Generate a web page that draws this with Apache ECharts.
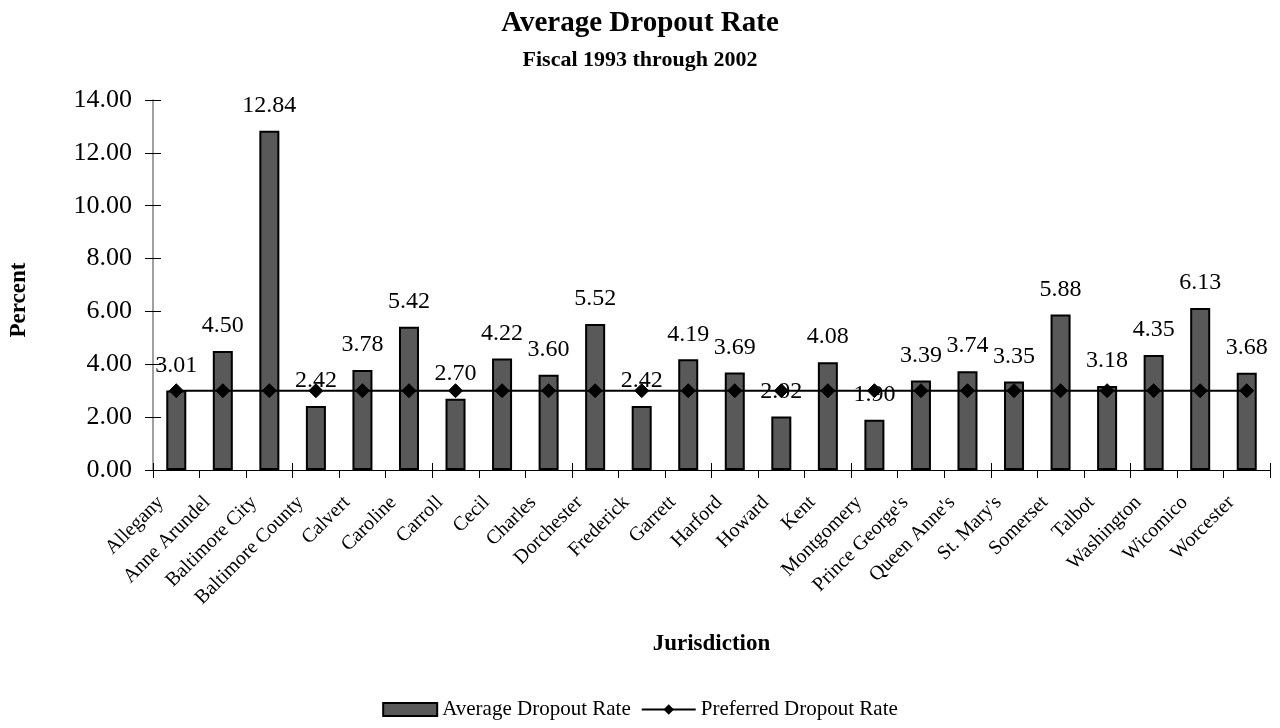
<!DOCTYPE html>
<html>
<head>
<meta charset="utf-8">
<script src="https://cdn.jsdelivr.net/npm/echarts@6/dist/echarts.min.js"></script>
<style>
  html, body { margin: 0; padding: 0; background: #fff; }
  #chart { width: 1280px; height: 728px; }
</style>
</head>
<body>
<div id="chart"></div>
<script>
// Jurisdictions (Maryland counties) along the category axis
const jurisdictions = [
  'Allegany', 'Anne Arundel', 'Baltimore City', 'Baltimore County', 'Calvert',
  'Caroline', 'Carroll', 'Cecil', 'Charles', 'Dorchester', 'Frederick',
  'Garrett', 'Harford', 'Howard', 'Kent', 'Montgomery', "Prince George's",
  "Queen Anne's", "St. Mary's", 'Somerset', 'Talbot', 'Washington',
  'Wicomico', 'Worcester'
];

// Average dropout rate, fiscal 1993 through 2002 (percent)
const averageRate = [
  3.01, 4.50, 12.84, 2.42, 3.78, 5.42, 2.70, 4.22, 3.60, 5.52, 2.42,
  4.19, 3.69, 2.02, 4.08, 1.90, 3.39, 3.74, 3.35, 5.88, 3.18, 4.35,
  6.13, 3.68
];

// Preferred (target) dropout rate (percent)
const preferredRate = [
  3.00, 3.00, 3.00, 3.00, 3.00, 3.00, 3.00, 3.00, 3.00, 3.00, 3.00,
  3.00, 3.00, 3.00, 3.00, 3.00, 3.00, 3.00, 3.00, 3.00, 3.00, 3.00,
  3.00, 3.00
];

// Percent axis range
const yMin = 0;
const yMax = 14;
const yStep = 2;

const FONT = '"Liberation Serif", "Times New Roman", serif';

const chart = echarts.init(document.getElementById('chart'), null, { renderer: 'canvas' });

chart.setOption({
  backgroundColor: '#ffffff',
  animation: false,
  textStyle: { fontFamily: FONT, color: '#000' },
  title: [
    {
      text: 'Average Dropout Rate',
      left: 'center', top: 4,
      textStyle: { fontFamily: FONT, fontSize: 29, fontWeight: 'bold', color: '#000' }
    },
    {
      text: 'Fiscal 1993 through 2002',
      left: 'center', top: 44,
      textStyle: { fontFamily: FONT, fontSize: 22, fontWeight: 'bold', color: '#000' }
    }
  ],
  grid: { left: 150, right: 10, top: 100, bottom: 258, containLabel: false },
  legend: {
    bottom: 3, left: 'center',
    itemWidth: 54, itemHeight: 13, itemGap: 10,
    textStyle: { fontFamily: FONT, fontSize: 21, color: '#000' },
    data: [
      { name: 'Average Dropout Rate', icon: 'rect' },
      { name: 'Preferred Dropout Rate' }
    ]
  },
  xAxis: [
    {
      type: 'category',
      data: jurisdictions,
      name: 'Jurisdiction',
      nameLocation: 'middle',
      nameGap: 163,
      nameTextStyle: { fontFamily: FONT, fontSize: 23, fontWeight: 'bold', color: '#000' },
      axisLine: { lineStyle: { color: '#000', width: 1 } },
      axisTick: { show: true, length: 8, lineStyle: { color: '#000' } },
      axisLabel: {
        rotate: 45, interval: 0, margin: 45,
        verticalAlign: 'bottom',
        padding: [0, 0, 12, 0],
        fontFamily: FONT, fontSize: 20, color: '#000'
      }
    },
    {
      // inner half of the crossing tick marks
      type: 'category',
      data: jurisdictions,
      position: 'bottom',
      axisLine: { show: false },
      axisTick: { show: true, inside: true, length: 7, lineStyle: { color: '#000' } },
      axisLabel: { show: false }
    }
  ],
  yAxis: [
    {
      type: 'value',
      min: yMin, max: yMax, interval: yStep,
      name: 'Percent',
      nameLocation: 'middle',
      nameGap: 122,
      nameRotate: 90,
      nameTextStyle: {
        fontFamily: FONT, fontSize: 23, fontWeight: 'bold', color: '#000',
        padding: [0, 30, 0, 0]
      },
      axisLine: { show: true, lineStyle: { color: '#808080', width: 1.5 } },
      axisTick: { show: true, length: 8, lineStyle: { color: '#000' } },
      splitLine: { show: false },
      axisLabel: {
        margin: 21,
        fontFamily: FONT, fontSize: 26, color: '#000',
        formatter: v => v.toFixed(2)
      }
    },
    {
      // inner half of the crossing tick marks
      type: 'value',
      min: yMin, max: yMax, interval: yStep,
      position: 'left',
      axisLine: { show: false },
      axisTick: { show: true, inside: true, length: 8, lineStyle: { color: '#000' } },
      splitLine: { show: false },
      axisLabel: { show: false }
    }
  ],
  series: [
    {
      name: 'Average Dropout Rate',
      type: 'bar',
      data: averageRate,
      barWidth: '43%',
      itemStyle: { color: '#595959', borderColor: '#000', borderWidth: 2 },
      label: {
        show: true, position: 'top', distance: 13,
        fontFamily: FONT, fontSize: 24, color: '#000',
        formatter: p => p.value.toFixed(2)
      },
      z: 2
    },
    {
      name: 'Preferred Dropout Rate',
      type: 'line',
      data: preferredRate,
      symbol: 'diamond',
      symbolSize: 14,
      lineStyle: { color: '#000', width: 2 },
      itemStyle: { color: '#000', borderColor: '#000' },
      z: 3
    }
  ]
});
</script>
</body>
</html>
